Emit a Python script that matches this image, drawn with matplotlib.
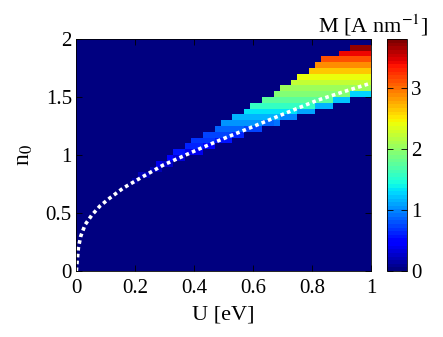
import numpy as np
import matplotlib
matplotlib.use('Agg')
import matplotlib.pyplot as plt

# band of non-zero M: one column per U value (cells centred on U, width 0.02)
band_U = [0.20, 0.22, 0.24, 0.26, 0.28, 0.30, 0.32, 0.34, 0.36, 0.38,
          0.40, 0.42, 0.44, 0.46, 0.48, 0.50, 0.52, 0.54, 0.56, 0.58,
          0.60, 0.62, 0.64, 0.66, 0.68, 0.70, 0.72, 0.74, 0.76, 0.78,
          0.80, 0.82, 0.84, 0.86, 0.88, 0.90, 0.92, 0.94, 0.96, 0.98, 1.00]
band_top = [0.80, 0.85, 0.85, 0.90, 0.95, 0.95, 1.00, 1.05, 1.05, 1.10,
            1.15, 1.15, 1.20, 1.20, 1.25, 1.30, 1.30, 1.35, 1.35, 1.40,
            1.45, 1.45, 1.50, 1.50, 1.55, 1.60, 1.60, 1.65, 1.70, 1.70,
            1.75, 1.80, 1.85, 1.85, 1.85, 1.90, 1.90, 1.95, 1.95, 1.95, 1.95]
band_bottom = [0.75, 0.80, 0.80, 0.85, 0.85, 0.90, 0.90, 0.95, 0.95, 1.00,
               1.00, 1.00, 1.05, 1.05, 1.10, 1.10, 1.10, 1.15, 1.15, 1.20,
               1.20, 1.20, 1.25, 1.25, 1.25, 1.30, 1.30, 1.30, 1.35, 1.35,
               1.35, 1.40, 1.40, 1.40, 1.45, 1.45, 1.45, 1.50, 1.50, 1.50, 1.50]
# value of the lowest cell of each column (bluer, under the dotted line)
bottom_M = [0.15, 0.18, 0.18, 0.22, 0.22, 0.26, 0.26, 0.30, 0.30, 0.36,
            0.36, 0.36, 0.44, 0.44, 0.55, 0.55, 0.55, 0.63, 0.63, 0.72,
            0.72, 0.72, 0.85, 0.85, 0.90, 1.00, 1.00, 1.00, 1.10, 1.10,
            1.10, 1.15, 1.15, 1.15, 1.20, 1.20, 1.20, 1.30, 1.30, 1.30, 1.30]

# typical M of each n0 row (lower edge of the row)
row_n0 = [0.75, 0.80, 0.85, 0.90, 0.95, 1.00, 1.05, 1.10, 1.15, 1.20,
          1.25, 1.30, 1.35, 1.40, 1.45, 1.50, 1.55, 1.60, 1.65, 1.70,
          1.75, 1.80, 1.85, 1.90]
row_M = [0.22, 0.26, 0.30, 0.36, 0.44, 0.55, 0.63, 0.70, 0.77, 0.87,
         1.03, 1.18, 1.33, 1.58, 1.75, 1.90, 2.05, 2.20, 2.43, 2.64,
         2.87, 3.10, 3.40, 3.70]

# white dotted boundary
line_U = [0.001, 0.004, 0.008, 0.016, 0.031, 0.053, 0.081, 0.115, 0.16,
          0.217, 0.296, 0.409, 0.488, 0.6, 0.7, 0.816, 0.9, 1.0]
line_n0 = [0.0, 0.09, 0.2, 0.3, 0.40, 0.48, 0.56, 0.63, 0.715,
           0.80, 0.914, 1.043, 1.129, 1.245, 1.35, 1.47, 1.54, 1.62]

plt.rcParams['font.family'] = 'Liberation Serif'
plt.rcParams['mathtext.fontset'] = 'stix'

U_edges = np.linspace(-0.01, 1.01, 52)
n_edges = np.linspace(0, 2, 41)
M = np.zeros((40, 51))
row_lookup = {round(n * 20): m for n, m in zip(row_n0, row_M)}
for u, lo, hi, mb in zip(band_U, band_bottom, band_top, bottom_M):
    i = int(round(u / 0.02))
    j0 = int(round(lo * 20))
    for j in range(j0, int(round(hi * 20))):
        M[j, i] = row_lookup[j]
    M[j0, i] = mb

fig = plt.figure(figsize=(4.43, 3.37), dpi=100)
ax = fig.add_axes([0.1716, 0.1958, 0.666, 0.6884])
cax = fig.add_axes([0.8736, 0.1958, 0.0451, 0.6884])

cmap = plt.get_cmap('jet', 64)
pc = ax.pcolormesh(U_edges, n_edges, M, cmap=cmap, vmin=0, vmax=3.8)
ax.plot(line_U, line_n0, color='white', lw=2.6, linestyle=(0, (1, 0.9)))

ax.set_xlim(0, 1)
ax.set_ylim(0, 2)
ax.set_xticks([0, 0.2, 0.4, 0.6, 0.8, 1])
ax.set_xticklabels(['0', '0.2', '0.4', '0.6', '0.8', '1'])
ax.set_yticks([0, 0.5, 1, 1.5, 2])
ax.set_yticklabels(['0', '0.5', '1', '1.5', '2'])
ax.tick_params(direction='in', top=True, right=True, length=4,
               labelsize=15, width=0.6)
ax.tick_params(axis='x', pad=6)
ax.tick_params(axis='y', pad=3)
ax.set_xlabel('U [eV]', fontsize=16, labelpad=5)
ax.set_ylabel('n$_0$', fontsize=17, labelpad=8)
for s in ax.spines.values():
    s.set_linewidth(0.6)

cb = fig.colorbar(pc, cax=cax)
cb.set_ticks([0, 1, 2, 3])
cb.ax.tick_params(direction='in', left=True, right=True, length=4,
                  labelsize=15, width=0.6, pad=3)
cb.outline.set_linewidth(0.6)

fig.text(0.966, 0.905, 'M [A nm$^{-1}$]', fontsize=16, ha='right',
         va='baseline')

plt.savefig('out.png', dpi=100)
